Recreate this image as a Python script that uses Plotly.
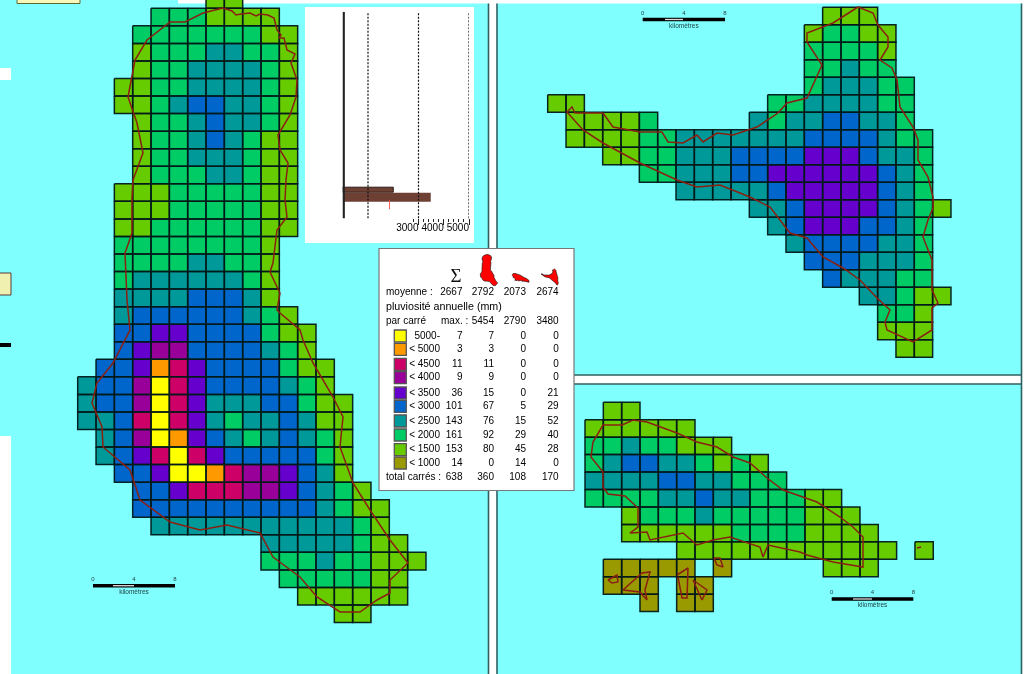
import plotly.graph_objects as go

# ---------- data: rainfall class of every grid square, one string per row ----------
MAIN_ROWS = [
    ".......LL", "....GGGLLLL", "...GGGGGGGLL", "...LGGGTTGGL", "...LGGTTTTGL",
    "..LLGGTTTTGL", "..LLGTBBTTGL", "...LGGTBTTGL", "...LGGTBTGLL", "...LGGTTTGLL",
    "...LGGGTTGLL", "..LLLGGGGGLL", "..LLLGGGGGLL", "..LLGGGGGGLL", "..GGGGGGGGL",
    "..GGGGTTGGL", "..GTTTTTTGL", "..TTTTBBBTL", "..TBBBBBBTGL", "..BBVVBBBBGLL",
    "..BVPPBBBBTGL", ".BBVOMVBBBBGLL", "TBBPYMVBBBBTGL", "TBBPYMVTTTBBGLL",
    "TTBMYMVTGTTBTLL", ".TBPYOVBTGTBTGL", ".TBVMYMVBBBBBGL", "..BBVYYOMPPVBTL",
    "...BBVMMMPPVBTGL", "...BBBBBBBBBBTGLL", "....TTTTTTTTTTTGL", "..........TTTTTGLL",
    "..........GGGTGGLLL", "...........GGGGGLL", "............LLLLLL", "..............LL",
]
EAST_ROWS = [
    "...............LLL", "..............LGGLL", "..............GGGGL", "..............GGTGG",
    "..............GTTTGG", "LL..........GGTTTTGG", ".LLLLG.....TGTTBBTTG",
    ".LLLLGGTTTTTTTBBBBTGG", "...LLGGTTTBBBBVVVBTTG", ".....GGTTTBBVVVVVVBTG",
    ".......TTTTTBVVVVVBTG", "...........TTBVVVVBTGL", "............TBVVVBBTG",
    ".............TBBBBTTG", "..............BBBTTTG", "...............BTTTGG",
    ".................TTGLL", "..................GGL", "..................LLL", "...................LL",
]
SOUTH_ROWS = [
    ".LL", "LLLLLL", "GGTGGLLL", "GTBBTTGLGL", "TTTTBBTTGGG", "GGGGTTBTTGGGLL",
    "..LGGGTGGGGGLLL", "..LLLLLLGGGGLLLL", ".....LLLLLLLLLLLL.L", ".KKKKK.K.....LLL",
    ".KKK.KK", "...K.KK",
]

CLASS_CODES = ["K", "L", "G", "T", "B", "V", "P", "M", "O", "Y"]
CLASS_COLORS = ["#999900", "#66CC00", "#00CC66", "#009999", "#0066CC",
                "#6600CC", "#990099", "#CC0066", "#FF9900", "#FFFF00"]

# legend table (top row first)
TABLE_LABELS = ["5000-", "< 5000", "< 4500", "< 4000", "< 3500", "< 3000", "< 2500", "< 2000", "< 1500", "< 1000"]
TABLE_CODES = ["Y", "O", "M", "P", "V", "B", "T", "G", "L", "K"]
COUNT_ALL = [7, 3, 11, 9, 36, 101, 143, 161, 153, 14]
COUNT_A = [7, 3, 11, 9, 15, 67, 76, 92, 80, 0]
COUNT_B = [0, 0, 0, 0, 0, 5, 15, 29, 45, 14]
COUNT_C = [0, 0, 0, 0, 21, 29, 52, 40, 28, 0]
MEANS = [2667, 2792, 2073, 2674]
MAXES = [5454, 2790, 3480]
TOTALS = [638, 360, 108, 170]

# inset chart
BAR_VALUES = [2030, 3500]
BAR_LEVELS = [28.5, 21.5]
BAR_THICK = [5, 9]
GUIDE_VALUES = [1000, 3000, 5000]
AXIS_LABELS = [3000, 4000, 5000]
MINOR_TICKS = [2800, 3200, 3400, 3600, 3800, 4200, 4400, 4600, 4800]
MARK_VALUE = 1850

# coastlines, map units
COAST_MAIN = [(223,8),(232,11),(236,15),(241,14),(250,13),(256,16),(260,14),(268,15),(274,18),(277,30),(281,35),(279,38),(284,38),(287,50),(295,54),(291,63),(297,80),(296,97),(290,115),(278,135),(280,150),(288,163),(286,180),(285,200),(287,217),(277,230),(273,263),(270,272),(280,293),(277,310),(280,313),(300,330),(303,340),(313,363),(323,380),(333,397),(343,417),(340,447),(353,483),(370,510),(390,540),(408,563),(390,580),(390,593),(377,600),(360,612),(340,612),(317,597),(300,577),(273,557),(260,533),(227,525),(200,530),(170,522),(140,500),(130,470),(103,447),(102,427),(92,403),(97,383),(113,363),(130,330),(127,300),(125,253),(132,233),(132,200),(133,180),(143,153),(137,123),(128,97),(135,60),(147,40),(170,22),(185,22),(203,13),(223,8)]
COAST_EAST = [(858,7),(873,13),(878,25),(888,37),(888,47),(880,60),(892,68),(897,80),(900,107),(913,127),(918,140),(918,160),(928,177),(933,197),(933,208),(928,220),(923,237),(932,260),(932,290),(938,303),(932,308),(932,330),(913,342),(887,330),(885,322),(890,310),(877,298),(860,280),(843,268),(823,257),(807,238),(790,233),(770,207),(750,197),(720,185),(697,187),(677,180),(640,163),(603,143),(583,130),(567,112),(572,107),(575,113),(603,113),(613,127),(640,132),(662,132),(668,142),(683,143),(697,135),(703,142),(717,133),(733,135),(757,127),(778,113),(787,103),(807,98),(822,65),(807,42),(807,33),(833,23),(858,7)]
COAST_SOUTH = [(622,425),(603,425),(593,442),(591,457),(603,472),(603,487),(608,494),(625,496),(638,508),(638,527),(630,533),(647,532),(650,540),(683,533),(697,545),(713,540),(730,537),(760,547),(763,557),(768,545),(800,552),(807,555),(833,562),(863,567),(863,537),(853,527),(840,517),(817,502),(783,490),(767,478),(750,463),(733,457),(717,447),(697,442),(677,433),(647,422),(633,420),(622,425)]
ISLET_1 = [(608,580),(617,575),(618,582),(612,583),(608,580)]
ISLET_2 = [(623,590),(642,573),(650,572),(645,590),(647,600),(640,592),(623,590)]
ISLET_3 = [(677,575),(688,568),(687,598),(682,598),(678,577)]
ISLET_4 = [(693,580),(707,590),(702,600),(693,580)]
ISLET_5 = [(714,558),(720,558),(723,567),(717,565),(714,558)]
ISLET_6 = [(917,548),(921,547)]

# ---------- styling / placement ----------
W, H = 1031, 674
SEA = "#80FFFF"
COAST = "#8A2010"
GRID = "rgba(0,25,25,0.95)"
FONT = "Liberation Sans"
CELL_W = 18.33
GRIDS = [(MAIN_ROWS, 77.7, -9.25, 17.55), (EAST_ROWS, 547.7, 7.3, 17.5), (SOUTH_ROWS, 585.0, 402.3, 17.44)]

fig = go.Figure()
n = len(CLASS_COLORS)
scale = []
for i, c in enumerate(CLASS_COLORS):
    scale += [[i / n, c], [(i + 1) / n, c]]

for rows, ox, oy, ch in GRIDS:
    width = max(len(r) for r in rows)
    z = [[CLASS_CODES.index(c) if c != "." else None for c in r.ljust(width, ".")] for r in rows]
    fig.add_trace(go.Heatmap(z=z, x0=ox + CELL_W / 2, dx=CELL_W, y0=oy + ch / 2, dy=ch,
                             zmin=-0.5, zmax=n - 0.5, colorscale=scale, showscale=False,
                             hoverinfo="skip"))
    xs, ys = [], []
    for j, r in enumerate(rows):
        for i, c in enumerate(r):
            if c == ".":
                continue
            x0, x1, y0, y1 = ox + i * CELL_W, ox + (i + 1) * CELL_W, oy + j * ch, oy + (j + 1) * ch
            xs += [x0, x1, x1, x0, x0, None]
            ys += [y0, y0, y1, y1, y0, None]
    fig.add_trace(go.Scatter(x=xs, y=ys, mode="lines", line=dict(color=GRID, width=1.5), hoverinfo="skip"))

for pts in [COAST_MAIN, COAST_EAST, COAST_SOUTH, ISLET_1, ISLET_2, ISLET_3, ISLET_4, ISLET_5, ISLET_6]:
    fig.add_trace(go.Scatter(x=[p[0] for p in pts], y=[p[1] for p in pts], mode="lines",
                             line=dict(color=COAST, width=1.5), hoverinfo="skip"))

# frames and white areas
def rect(x0, y0, x1, y1, fill="white", line=None, lw=0):
    return dict(type="rect", xref="x", yref="y", x0=x0, y0=y0, x1=x1, y1=y1, fillcolor=fill,
                line=dict(color=line or fill, width=lw), layer="below")

frame = "#2f5f5f"
shapes = [
    rect(178, -2, W + 2, 3.5),
    rect(489, -2, 497, H + 2),
    rect(497, 375, W + 2, 384),
    rect(1021.5, -2, W + 2, H + 2),
    rect(-2, 436, 11, H + 2),
    rect(-2, 68, 11, 80),
    rect(17, -2, 80, 3.5, "#F8F8B8", "#5a6a3a", 1),
    rect(-2, 273, 11, 295, "#F0F0B0", "#5a3a3a", 1),
    rect(-2, 343, 11, 347, "black"),
]
for x0, y0, x1, y1 in [(488.5, 3.5, 488.5, H), (497, 3.5, 497, H), (497, 375, 1021.5, 375), (497, 384, 1021.5, 384), (1021.5, 3.5, 1021.5, H)]:
    shapes.append(dict(type="line", xref="x", yref="y", x0=x0, y0=y0, x1=x1, y1=y1, line=dict(color=frame, width=1.6), layer="below"))
shapes += [rect(305, 7, 474, 243), rect(379, 248.5, 574, 490.5, "white", "#777777", 1.2)]

# scale bars
for x0, x1, y, s0, s1 in [(93, 175, 585.7, 113, 134), (642.7, 725, 19.5, 665, 683), (831.7, 913.3, 599, 853, 872)]:
    fig.add_trace(go.Scatter(x=[x0, x1], y=[y, y], mode="lines", line=dict(color="black", width=3.5), hoverinfo="skip"))
    fig.add_trace(go.Scatter(x=[s0, s1], y=[y, y], mode="lines", line=dict(color="#dddddd", width=1.3), hoverinfo="skip"))
    fig.add_trace(go.Scatter(x=[x0, (x0 + x1) / 2, x1], y=[y - 6.5] * 3, mode="text", text=["0", "4", "8"],
                             textfont=dict(family=FONT, size=6, color="#224444"), hoverinfo="skip"))
    fig.add_trace(go.Scatter(x=[(x0 + x1) / 2], y=[y + 6.5], mode="text", text=["kilomètres"],
                             textfont=dict(family=FONT, size=6.5, color="#224444"), hoverinfo="skip"))

# legend table
ROW_Y = [336, 349.3, 364.3, 377.7, 393, 406.3, 421, 435, 449.7, 463]
COL_X = [462.5, 494, 526, 558.7]
TXT = dict(family=FONT, size=10, color="#000000")

def text(xs, ys, labels, pos="middle left", font=TXT):
    fig.add_trace(go.Scatter(x=xs, y=ys, mode="text", text=labels, textposition=pos, textfont=font,
                             hoverinfo="skip", cliponaxis=False))

fig.add_trace(go.Scatter(x=[400.3] * 10, y=ROW_Y, mode="markers", hoverinfo="skip",
                         marker=dict(symbol="square", size=12,
                                     color=[CLASS_COLORS[CLASS_CODES.index(c)] for c in TABLE_CODES],
                                     line=dict(color="#555555", width=1.3))))
text([440] * 10, ROW_Y, TABLE_LABELS)
for cx, col in zip(COL_X, [COUNT_ALL, COUNT_A, COUNT_B, COUNT_C]):
    text([cx] * 10, ROW_Y, [str(v) for v in col])
text(COL_X, [292.7] * 4, [str(v) for v in MEANS])
text(COL_X[1:], [321.3] * 3, [str(v) for v in MAXES])
text(COL_X, [477.7] * 4, [str(v) for v in TOTALS])
text([386], [292.7], ["moyenne :"], "middle right")
text([386], [307.7], ["pluviosité annuelle (mm)"], "middle right", dict(family=FONT, size=10.7, color="#000000"))
text([386], [321.3], ["par carré"], "middle right")
text([441], [321.3], ["max. :"], "middle right")
text([386], [477.7], ["total carrés :"], "middle right")
text([456], [277], ["Σ"], "middle center", dict(family="Liberation Serif", size=19, color="#111111"))

# island icons, fitted from the coastlines
for pts, bx0, bx1, by0, by1 in [(COAST_MAIN, 480, 497.7, 254.3, 285.7), (COAST_SOUTH, 512.3, 529, 273.3, 282.3), (COAST_EAST, 541, 558.3, 269, 285)]:
    xa, ya = [p[0] for p in pts], [p[1] for p in pts]
    fig.add_trace(go.Scatter(
        x=[bx0 + (v - min(xa)) / (max(xa) - min(xa)) * (bx1 - bx0) for v in xa],
        y=[by0 + (v - min(ya)) / (max(ya) - min(ya)) * (by1 - by0) for v in ya],
        mode="lines", fill="toself", fillcolor="#FF0000", line=dict(color="#111111", width=0.6), hoverinfo="skip"))

# inset histogram
inset = dict(xaxis="x2", yaxis="y2")
fig.add_trace(go.Bar(x=BAR_VALUES, y=BAR_LEVELS, width=BAR_THICK, orientation="h", base=0,
                     marker=dict(color="#6E4034", line=dict(color="#2a1a14", width=[1, 0])), hoverinfo="skip", **inset))
for v in GUIDE_VALUES:
    fig.add_trace(go.Scatter(x=[v, v], y=[0, 205], mode="lines", line=dict(color="#111111", width=1.2, dash="2px,1.5px"),
                             hoverinfo="skip", cliponaxis=False, **inset))
fig.add_trace(go.Scatter(x=[0, 0], y=[0, 206.6], mode="lines", line=dict(color="#222222", width=4.2),
                         hoverinfo="skip", cliponaxis=False, **inset))
fig.add_trace(go.Scatter(x=[MARK_VALUE] * 2, y=[9, 18], mode="lines", line=dict(color="#FF5A5A", width=1),
                         hoverinfo="skip", **inset))
fig.add_trace(go.Scatter(x=AXIS_LABELS, y=[-10] * 3, mode="text", text=[str(v) for v in AXIS_LABELS],
                         textposition="middle left", cliponaxis=False, hoverinfo="skip",
                         textfont=dict(family=FONT, size=10, color="#000000"), **inset))

hidden = dict(visible=False, showgrid=False, zeroline=False, fixedrange=True)
fig.update_layout(
    width=W, height=H, margin=dict(l=0, r=0, t=0, b=0), autosize=False,
    paper_bgcolor=SEA, plot_bgcolor="rgba(0,0,0,0)", showlegend=False, shapes=shapes, bargap=0,
    xaxis=dict(range=[0, W], domain=[0, 1], **hidden),
    yaxis=dict(range=[H, 0], domain=[0, 1], **hidden),
    xaxis2=dict(domain=[342.75 / W, 469 / W], range=[0, 5000], anchor="free", position=1 - 218.3 / H,
                showgrid=False, zeroline=False, showline=False, showticklabels=False, ticks="outside",
                tickvals=AXIS_LABELS, ticklen=6, tickcolor="#222222", tickwidth=1,
                minor=dict(tickvals=MINOR_TICKS, ticks="outside", ticklen=3, tickcolor="#222222", tickwidth=1)),
    yaxis2=dict(domain=[1 - 234.3 / H, 1 - 11.7 / H], range=[-16, 206.6], anchor="x2", **hidden),
)
fig.write_html("out.html",
               post_script="document.body.style.margin='0';document.body.style.overflow='hidden';"
                           "document.querySelector('.plotly-graph-div').style.filter='blur(0.35px)';",
               config=dict(displayModeBar=False))
